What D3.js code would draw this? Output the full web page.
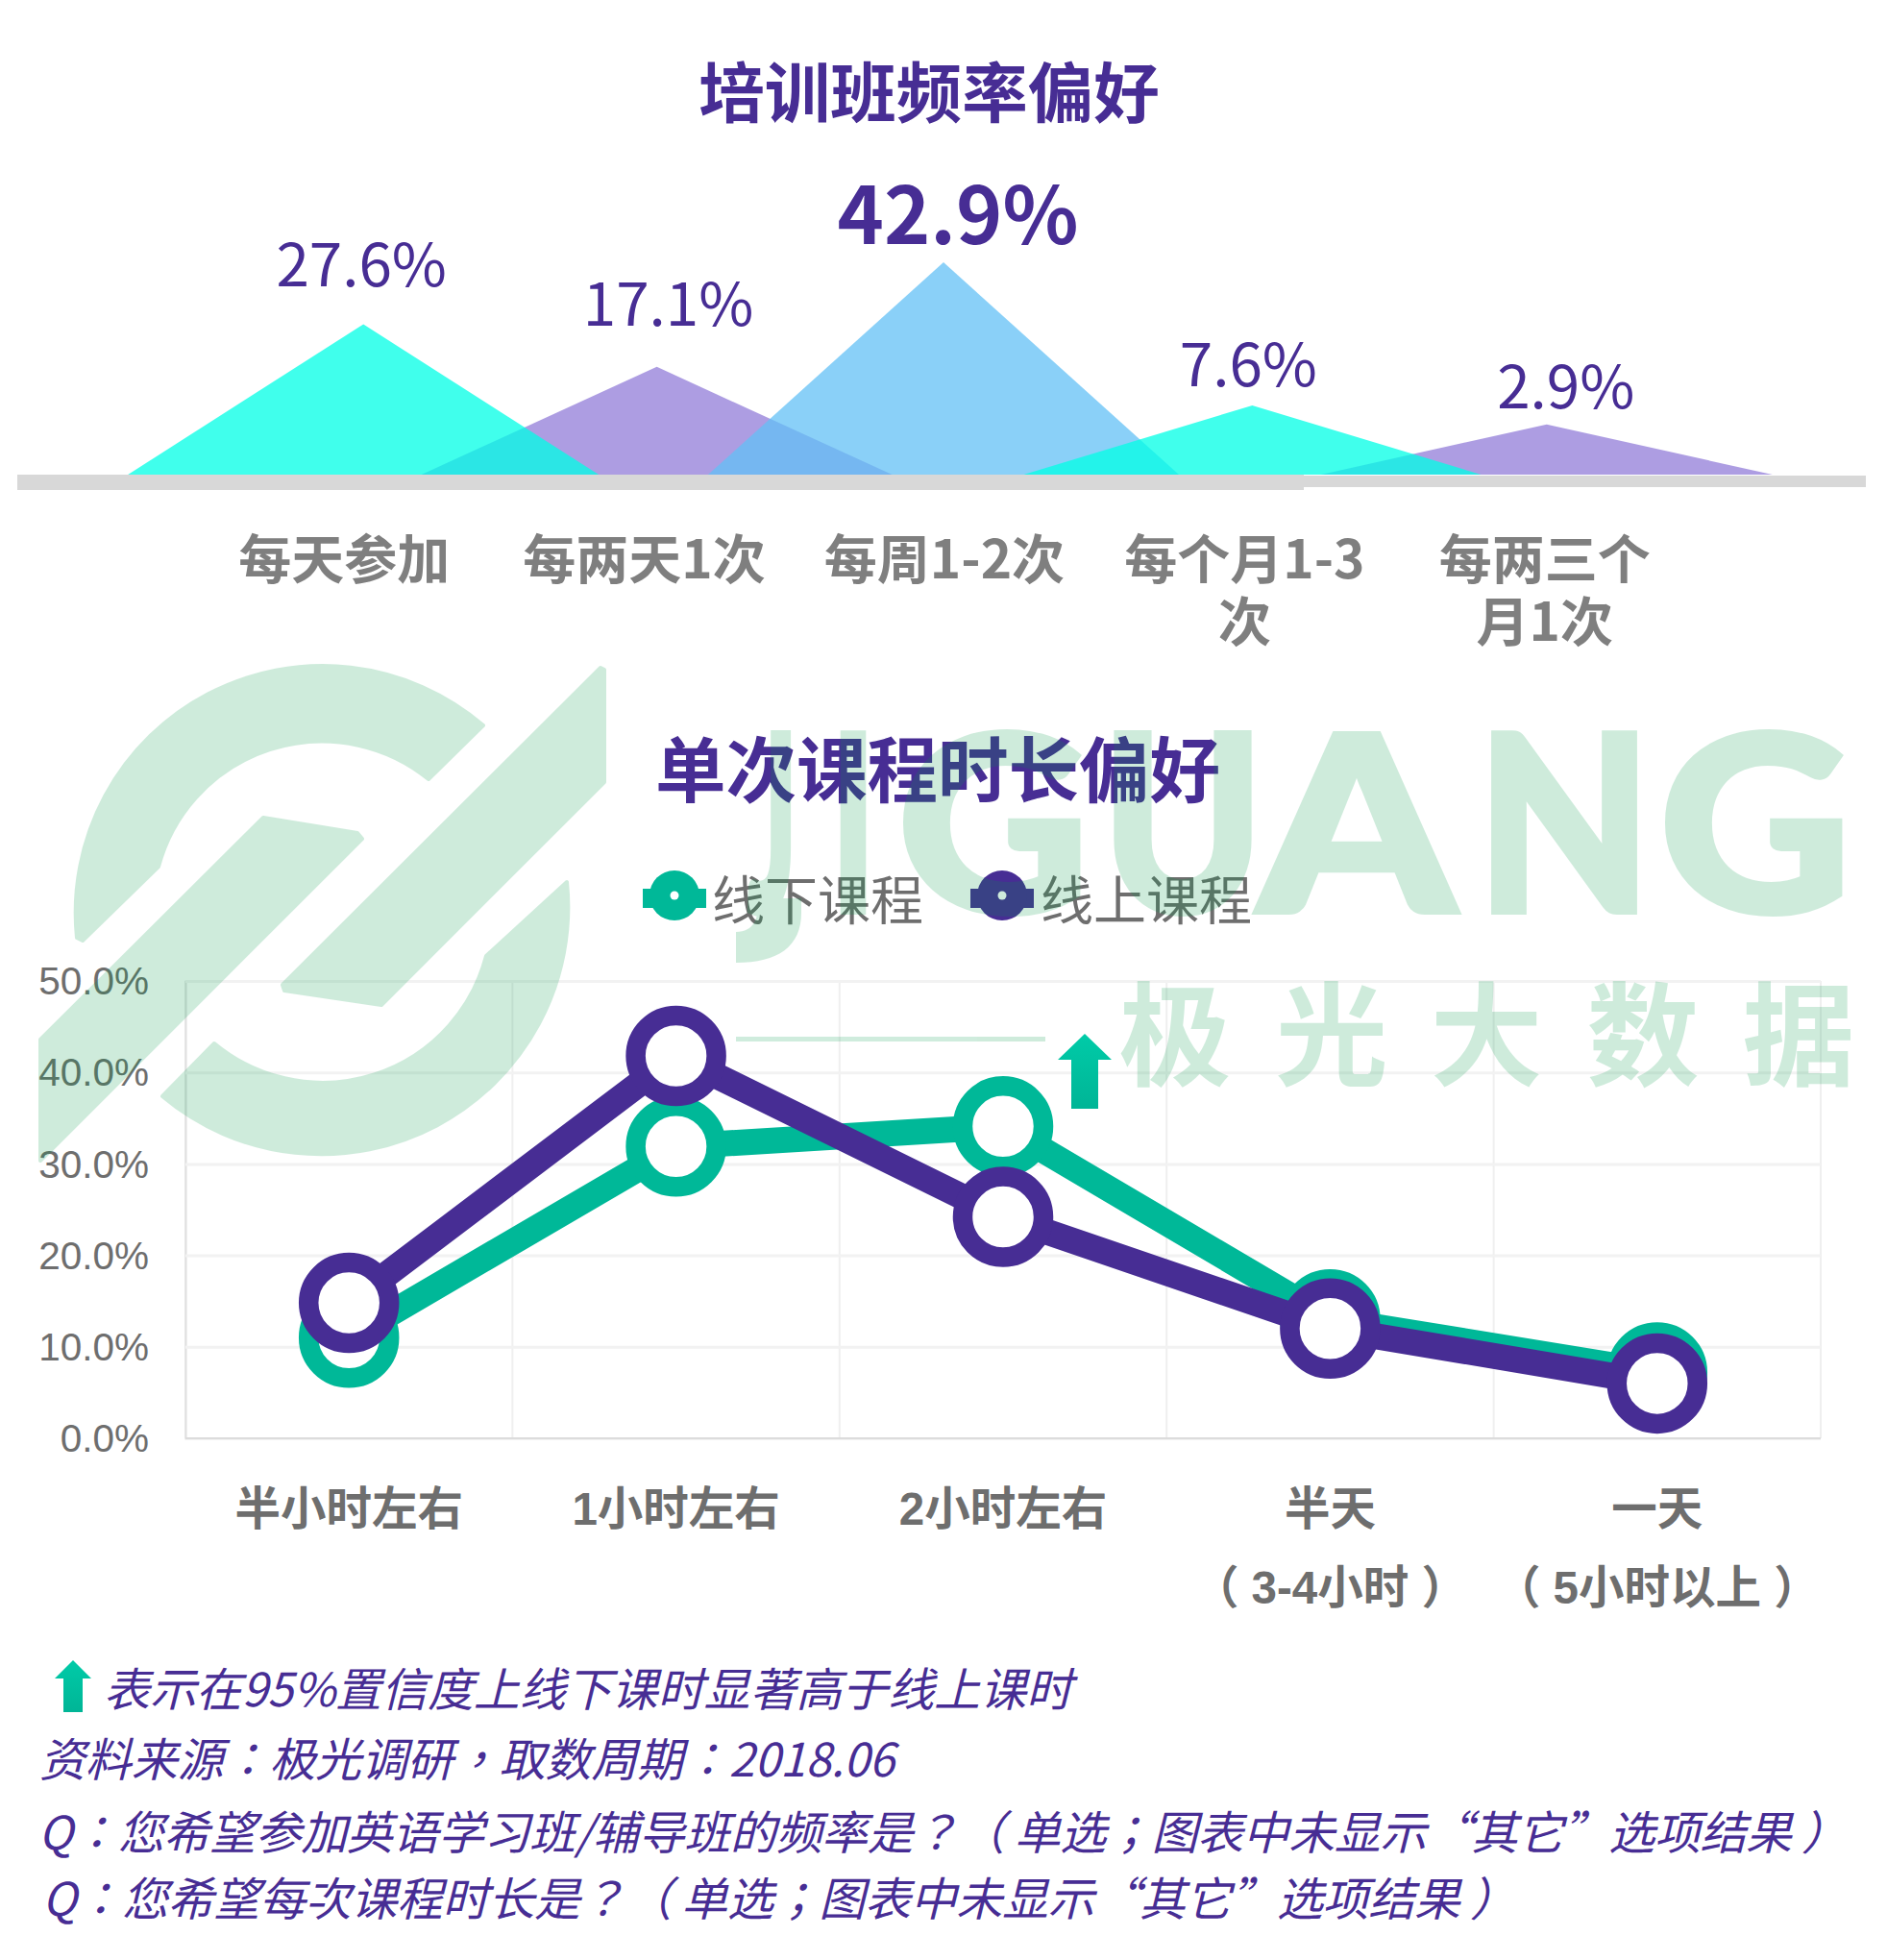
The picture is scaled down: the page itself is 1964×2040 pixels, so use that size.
<!DOCTYPE html>
<html lang="zh-CN"><head><meta charset="utf-8">
<script src="https://cdn.jsdelivr.net/npm/d3@7/dist/d3.min.js"></script>
<style>html,body{margin:0;padding:0;background:#fff}svg{display:block}
text{font-family:"Noto Sans CJK SC","Noto Sans",sans-serif}</style></head><body>
<script>
const freqCategories = [["每天参加"],["每两天1次"],["每周1-2次"],["每个月1-3","次"],["每两三个","月1次"]];
const freqValues = [27.6,17.1,42.9,7.6,2.9];
const freqColors = ["#00ffe5","#5b3bc5","#63c0f5","#00ffe5","#5b3bc5"];
const freqOpacity = [0.75,0.5,0.75,0.75,0.5];
const drawOrder = [1,4,2,0,3];
const peakNudge = [20,13,-1,8,2];
const halfBases = [245,245,245,238,235];
const labelNudgeX = [-2,12,15,-4,20];
const labelLift = [39.5,42.5,19,20,17];
const durCategories = [["半小时左右"],["1小时左右"],["2小时左右"],["半天","（ 3-4小时 ）"],["一天","（ 5小时以上 ）"]];
const offlineValues = [11.0,31.9,34.1,13.0,7.2];
const onlineValues = [14.8,41.8,24.2,12.0,6.0];
const yTicks = [0,10,20,30,40,50];
const seriesNames = ["线下课程","线上课程"];
const seriesColors = ["#00b898","#472d94"];
const notes = ["表示在95%置信度上线下课时显著高于线上课时","资料来源：极光调研，取数周期：2018.06",
 "Q：您希望参加英语学习班/辅导班的频率是？（ 单选；图表中未显示“其它”选项结果 ）","Q：您希望每次课程时长是？（ 单选；图表中未显示“其它”选项结果 ）"];

const purple="#472d94", grey="#7f7f7f";
const svg=d3.select("body").append("svg").attr("width",1964).attr("height",2040).attr("viewBox","0 0 1964 2040");
const defs=svg.append("defs");
const grad=defs.append("linearGradient").attr("id","arrowGrad").attr("x1",0).attr("x2",0).attr("y1",0).attr("y2",1);
grad.append("stop").attr("offset",0).attr("stop-color","#00cba8");
grad.append("stop").attr("offset",1).attr("stop-color","#00b596");

/* ---- top chart ---- */
svg.append("text").attr("x",967).attr("y",122).attr("text-anchor","middle").attr("font-size",68.5).attr("font-weight",700).attr("fill",purple).text("培训班频率偏好");
const x1=d3.scaleBand().domain(d3.range(5)).range([202,1764]);
const y1=d3.scaleLinear().domain([-9.5,42.9]).range([494,273]);
svg.append("rect").attr("x",18).attr("y",494).attr("width",1339).attr("height",16).attr("fill","#d8d8d8");
svg.append("rect").attr("x",1357).attr("y",495).attr("width",585).attr("height",12).attr("fill","#d8d8d8");
svg.append("g").selectAll("path").data(drawOrder).join("path")
 .attr("d",i=>{const c=x1(i)+x1.bandwidth()/2+peakNudge[i],h=halfBases[i];return d3.line()([[c-h,y1(-9.5)],[c,y1(freqValues[i])],[c+h,y1(-9.5)]])+"Z";})
 .attr("fill",i=>freqColors[i]).attr("fill-opacity",i=>freqOpacity[i]);
svg.append("g").selectAll("text").data(freqValues).join("text")
 .attr("x",(v,i)=>x1(i)+x1.bandwidth()/2+peakNudge[i]+labelNudgeX[i]).attr("y",(v,i)=>y1(v)-labelLift[i])
 .attr("text-anchor","middle").attr("fill",purple)
 .attr("font-size",v=>v===d3.max(freqValues)?82:62).attr("font-weight",v=>v===d3.max(freqValues)?700:400)
 .text(v=>v.toFixed(1)+"%");
const cat1=svg.append("g").selectAll("text").data(freqCategories).join("text")
 .attr("text-anchor","middle").attr("font-size",55).attr("font-weight",700).attr("fill",grey);
cat1.each(function(lines,i){d3.select(this).selectAll("tspan").data(lines).join("tspan")
 .attr("x",x1(i)+x1.bandwidth()/2).attr("y",(d,j)=>602+j*65).text(d=>d);});

/* ---- line chart ---- */
svg.append("text").attr("x",976).attr("y",829).attr("text-anchor","middle").attr("font-size",73.5).attr("font-weight",700).attr("fill",purple).text("单次课程时长偏好");
const x2=d3.scaleBand().domain(d3.range(5)).range([193,1895]);
const y2=d3.scaleLinear().domain([0,50]).range([1497,1021]);
const xEdges=d3.range(6).map(i=>193+i*x2.bandwidth());
svg.append("g").selectAll("line").data(xEdges).join("line")
 .attr("x1",d=>d).attr("x2",d=>d).attr("y1",y2(50)).attr("y2",y2(0)).attr("stroke","#efefef").attr("stroke-width",2);
const yAxis=svg.append("g").attr("transform","translate(193,0)")
 .call(d3.axisLeft(y2).tickValues(yTicks).tickSize(-1702).tickPadding(38).tickFormat(d=>d.toFixed(1)+"%"));
yAxis.select(".domain").attr("stroke","#e0e0e0").attr("stroke-width",2);
yAxis.selectAll("line").attr("stroke","#f2f2f2").attr("stroke-width",3);
yAxis.selectAll("text").attr("font-size",40.5).attr("fill","#6e6e6e").attr("dy","0.34em").style("font-family","'Liberation Sans'");
svg.append("line").attr("x1",193).attr("x2",1895).attr("y1",y2(0)).attr("y2",y2(0)).attr("stroke","#dcdcdc").attr("stroke-width",2);
const xAxis=svg.append("g").attr("transform","translate(0,1497)").call(d3.axisBottom(x2).tickSize(0).tickFormat(""));
xAxis.select(".domain").remove();
xAxis.selectAll(".tick text").each(function(d){d3.select(this).selectAll("tspan").data(durCategories[d]).join("tspan")
 .attr("x",0).attr("y",(t,j)=>90+j*82).attr("dy",0).text(t=>t);})
 .attr("font-size",47.5).attr("font-weight",700).attr("fill","#6e6e6e").style("font-family","'Liberation Sans','Noto Sans CJK SC'");
const lineGen=d3.line().x((v,i)=>x2(i)+x2.bandwidth()/2).y(v=>y2(v));
[offlineValues,onlineValues].forEach((vals,k)=>{
 const g=svg.append("g");
 g.append("path").attr("d",lineGen(vals)).attr("fill","none").attr("stroke",seriesColors[k]).attr("stroke-width",27);
 g.selectAll("circle").data(vals).join("circle").attr("cx",(v,i)=>x2(i)+x2.bandwidth()/2).attr("cy",v=>y2(v))
  .attr("r",42).attr("fill","#fff").attr("stroke",seriesColors[k]).attr("stroke-width",20.5);
});
/* legend */
const legendCx=[702,1043], legendTx=[741,1083];
seriesNames.forEach((n,k)=>{
 const g=svg.append("g");
 g.append("rect").attr("x",legendCx[k]-33).attr("y",925).attr("width",66).attr("height",20).attr("fill",seriesColors[k]);
 g.append("circle").attr("cx",legendCx[k]).attr("cy",932).attr("r",26).attr("fill",seriesColors[k]);
 g.append("circle").attr("cx",legendCx[k]).attr("cy",932).attr("r",4.5).attr("fill","#fff");
 g.append("text").attr("x",legendTx[k]).attr("y",957).attr("font-size",55).attr("fill","#6e6e6e").text(n);
});
/* arrows */
function arrow(cx,top,headBase,bottom,hw,sw){
 return d3.line()([[cx,top],[cx+hw,headBase],[cx+sw,headBase],[cx+sw,bottom],[cx-sw,bottom],[cx-sw,headBase],[cx-hw,headBase]])+"Z";}
svg.append("path").attr("d",arrow(1129,1076,1103,1154,28,14)).attr("fill","url(#arrowGrad)");
svg.append("path").attr("d",arrow(76,1728,1747,1782,19,10)).attr("fill","url(#arrowGrad)");

/* ---- notes ---- */
const noteX=[108,41,40,44], noteY=[1776,1849,1925,1994], noteW=[1008,890,1883,1534];
svg.append("g").selectAll("text").data(notes).join("text")
 .attr("x",(d,i)=>noteX[i]).attr("y",(d,i)=>noteY[i]).attr("font-size",48).attr("font-style","italic").attr("fill",purple)
 .attr("lang","zh-TW").style("font-family","'Noto Sans CJK TC'")
 .attr("textLength",(d,i)=>noteW[i]).attr("lengthAdjust","spacing").text(d=>d);

/* ---- watermark ---- */
const wm=svg.append("g").attr("opacity",0.19).attr("fill","#009a48").attr("stroke","#009a48");
wm.append("path").attr("stroke-width",4).attr("stroke-linejoin","round").attr("d",`M503,755 A257,257 0 0 0 80,976 L86,979 L165,902 A176,176 0 0 1 446,811 Z`);
wm.append("path").attr("stroke-width",4).attr("stroke-linejoin","round").attr("d",`M590,918 A257,257 0 0 1 169,1141 L223,1086 A176,176 0 0 0 506,995 Z`);
wm.append("path").attr("stroke-width",4).attr("stroke-linejoin","round").attr("d",d3.line()([[625,695],[629,697],[629,814],[397,1046],[296,1031],[294,1025]])+"Z");
wm.append("path").attr("stroke-width",4).attr("stroke-linejoin","round").attr("d",d3.line()([[274,851],[372,867],[377,873],[42,1208],[42,1082]])+"Z");
wm.append("rect").attr("x",766).attr("y",1079).attr("width",322).attr("height",5).attr("stroke","none");
wm.append("path").attr("stroke","none").attr("d","M834,935 L834,950 C834,985 810,1002 766,1002 L766,970 C785,970 790,955 790,935 Z");
const wmLetters=["J","I","G","U","A","N","G"];
const wmX=[778,865,934,1147,1310,1537,1727], wmW=[52,46,200,168,204,182,200];
wm.append("g").attr("stroke-width",6).selectAll("text").data(wmLetters).join("text")
 .attr("x",(d,i)=>wmX[i]).attr("y",949).attr("font-size",255).attr("font-weight",900)
 .attr("textLength",(d,i)=>wmW[i]).attr("lengthAdjust","spacingAndGlyphs").style("font-family","Lato").text(d=>d);
const wmCn=["极","光","大","数","据"], wmCnX=[1223,1386,1547,1710,1872];
wm.append("g").attr("stroke","none").selectAll("text").data(wmCn).join("text")
 .attr("x",(d,i)=>wmCnX[i]).attr("y",1121).attr("text-anchor","middle").attr("font-size",117).attr("font-weight",700).text(d=>d);
</script></body></html>
